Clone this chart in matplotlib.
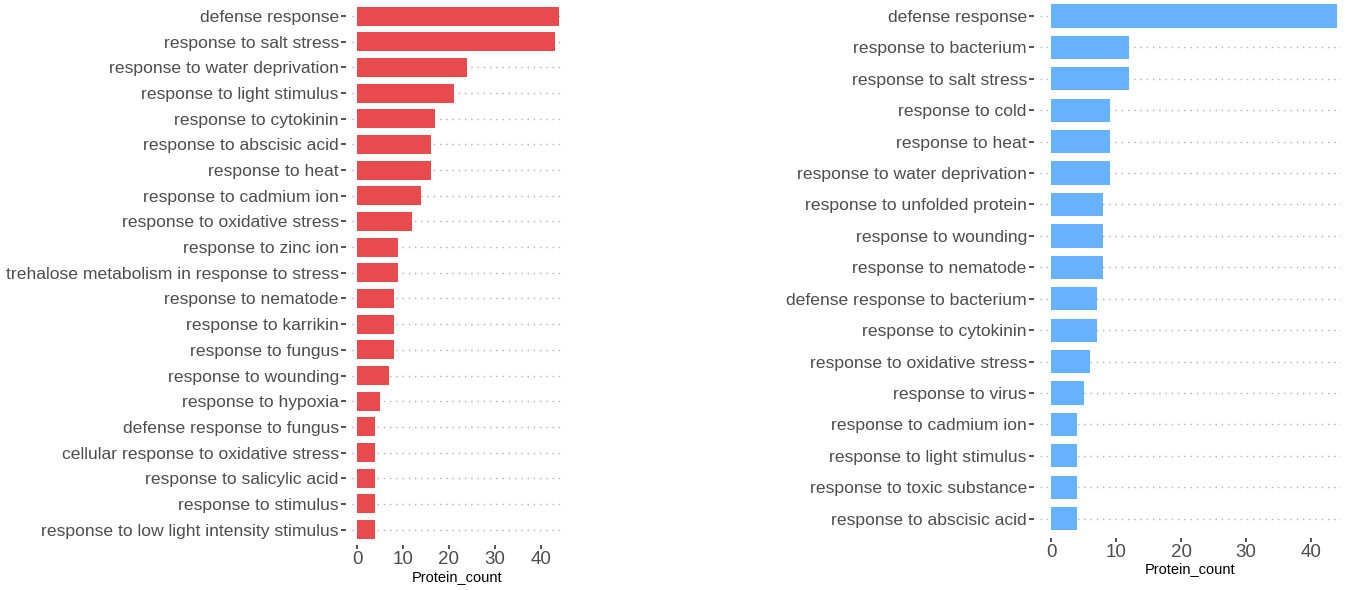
import matplotlib.pyplot as plt

plt.rcParams["font.family"] = ["Liberation Sans", "DejaVu Sans"]

# GO terms, listed top to bottom as drawn
left_terms = [
    "defense response", "response to salt stress", "response to water deprivation",
    "response to light stimulus", "response to cytokinin", "response to abscisic acid",
    "response to heat", "response to cadmium ion", "response to oxidative stress",
    "response to zinc ion", "trehalose metabolism in response to stress",
    "response to nematode", "response to karrikin", "response to fungus",
    "response to wounding", "response to hypoxia", "defense response to fungus",
    "cellular response to oxidative stress", "response to salicylic acid",
    "response to stimulus", "response to low light intensity stimulus",
]
left_counts = [44, 43, 24, 21, 17, 16, 16, 14, 12, 9, 9, 8, 8, 8, 7, 5, 4, 4, 4, 4, 4]

right_terms = [
    "defense response", "response to bacterium", "response to salt stress",
    "response to cold", "response to heat", "response to water deprivation",
    "response to unfolded protein", "response to wounding", "response to nematode",
    "defense response to bacterium", "response to cytokinin",
    "response to oxidative stress", "response to virus", "response to cadmium ion",
    "response to light stimulus", "response to toxic substance",
    "response to abscisic acid",
]
right_counts = [44, 12, 12, 9, 9, 9, 8, 8, 8, 7, 7, 6, 5, 4, 4, 4, 4]

W, H = 1345, 590


def panel(fig, box, terms, counts, color, xlim):
    x0, x1, y_top, y_bot = box
    ax = fig.add_axes([x0 / W, 1 - y_bot / H, (x1 - x0) / W, (y_bot - y_top) / H])
    n = len(terms)
    ypos = list(range(n))[::-1]
    for y in ypos:
        ax.axhline(y, color="#b0b0b0", lw=1.0, ls=(0, (1, 3.5)), zorder=0)
    ax.barh(ypos, counts, height=0.74, color=color, zorder=2)
    ax.set_yticks(ypos)
    ax.set_yticklabels(terms)
    ax.set_xticks([0, 10, 20, 30, 40])
    ax.set_xlim(*xlim)
    ax.set_ylim(-0.6, n - 0.4)
    for s in ax.spines.values():
        s.set_visible(False)
    ax.spines["left"].set_position(("outward", 4))
    ax.tick_params(axis="y", length=3.5, width=1.2, color="#333333",
                   labelsize=12.6, labelcolor="#4d4d4d", pad=2)
    ax.tick_params(axis="x", length=3, width=1.2, color="#333333",
                   labelsize=13.5, labelcolor="#4d4d4d", pad=1.5)
    ax.set_xlabel("Protein_count", fontsize=10.5, color="black", labelpad=1)
    return ax


fig = plt.figure(figsize=(13.45, 5.9), dpi=100)
panel(fig, (352, 563, 0.6, 545), left_terms, left_counts, "#e84b4d", (-1.1, 44.8))
panel(fig, (1040, 1341, -2.9, 537.5), right_terms, right_counts, "#66b2ff", (-1.7, 44.6))

fig.savefig("out.png", dpi=100)
